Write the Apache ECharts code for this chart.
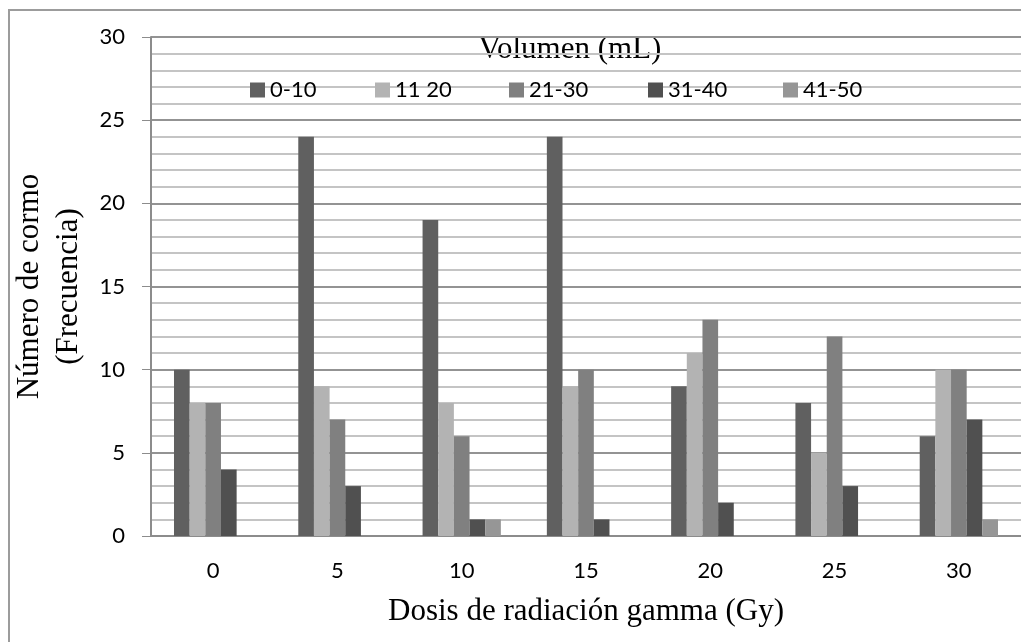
<!DOCTYPE html>
<html>
<head>
<meta charset="utf-8">
<script src="https://cdn.jsdelivr.net/npm/echarts@6/dist/echarts.min.js"></script>
<style>
  html, body { margin: 0; padding: 0; background: #fff; }
  #chart { width: 1021px; height: 642px; }
</style>
</head>
<body>
<div id="chart"></div>
<script>
// dosis (Gy) on the x axis
var categories = ['0', '5', '10', '15', '20', '25', '30'];
var seriesNames = ['0-10', '11 20', '21-30', '31-40', '41-50'];
// frecuencia per volumen class
var vol0_10  = [10, 24, 19, 24, 9, 8, 6];
var vol11_20 = [8, 9, 8, 9, 11, 5, 10];
var vol21_30 = [8, 7, 6, 10, 13, 12, 10];
var vol31_40 = [4, 3, 1, 1, 2, 3, 7];
var vol41_50 = [0, 0, 1, 0, 0, 0, 1];
var yTicks = [0, 5, 10, 15, 20, 25, 30];

var myColor = ['#606060', '#b3b3b3', '#808080', '#505050', '#969696'];
var allValues = [vol0_10, vol11_20, vol21_30, vol31_40, vol41_50];
var legendLeft = [245, 370, 504, 643, 778];

var sansFont = 'Lato';
var serifFont = 'Liberation Serif';

var series = seriesNames.map(function (name, i) {
    return {
        name: name,
        type: 'bar',
        data: allValues[i],
        barGap: 0,
        barCategoryGap: '37%',
        itemStyle: { color: myColor[i] },
        emphasis: { disabled: true }
    };
});

// one legend per item so the spacing is even like the original
var legends = seriesNames.map(function (name, i) {
    return {
        data: [name],
        left: legendLeft[i],
        top: 74,
        itemWidth: 15,
        itemHeight: 15,
        icon: 'rect',
        selectedMode: false,
        textStyle: { fontFamily: sansFont, fontSize: 22, color: '#000' }
    };
});

var option = {
    animation: false,
    backgroundColor: '#fff',
    grid: {
        left: 151,
        right: 0,
        top: 37,
        bottom: 106
    },
    graphic: [
        {
            type: 'rect',
            silent: true,
            z: -10,
            shape: { x: 9, y: 10, width: 1100, height: 700 },
            style: { fill: 'none', stroke: '#9c9c9c', lineWidth: 2 }
        },
        {
            type: 'text',
            silent: true,
            x: 570,
            y: 50,
            style: {
                text: 'Volumen (mL)',
                font: '31px "' + serifFont + '"',
                fill: '#000',
                align: 'center',
                verticalAlign: 'middle'
            }
        }
    ],
    legend: legends,
    xAxis: {
        type: 'category',
        data: categories,
        name: 'Dosis de radiación gamma (Gy)',
        nameLocation: 'middle',
        nameGap: 60,
        nameTextStyle: { fontFamily: serifFont, fontSize: 31, color: '#000' },
        axisLine: { show: true, lineStyle: { color: '#8c8c8c', width: 2 } },
        axisTick: { show: false },
        axisLabel: { color: '#000', fontFamily: sansFont, fontSize: 22, margin: 24 },
        splitLine: { show: false }
    },
    yAxis: {
        type: 'value',
        min: yTicks[0],
        max: yTicks[yTicks.length - 1],
        interval: 5,
        name: 'Número de cormo\n(Frecuencia)',
        nameLocation: 'middle',
        nameGap: 60,
        nameTextStyle: { fontFamily: serifFont, fontSize: 31, color: '#000', lineHeight: 39 },
        axisLine: { show: true, lineStyle: { color: '#8c8c8c', width: 2 } },
        axisTick: { show: true, length: 9, lineStyle: { color: '#8c8c8c', width: 1 } },
        axisLabel: { color: '#000', fontFamily: sansFont, fontSize: 22, margin: 26 },
        minorTick: { show: false, splitNumber: 5 },
        splitLine: { show: true, lineStyle: { color: '#939393', width: 2 } },
        minorSplitLine: { show: true, lineStyle: { color: '#c4c4c4', width: 2 } }
    },
    series: series
};

var chart = echarts.init(document.getElementById('chart'));
chart.setOption(option);
</script>
</body>
</html>
